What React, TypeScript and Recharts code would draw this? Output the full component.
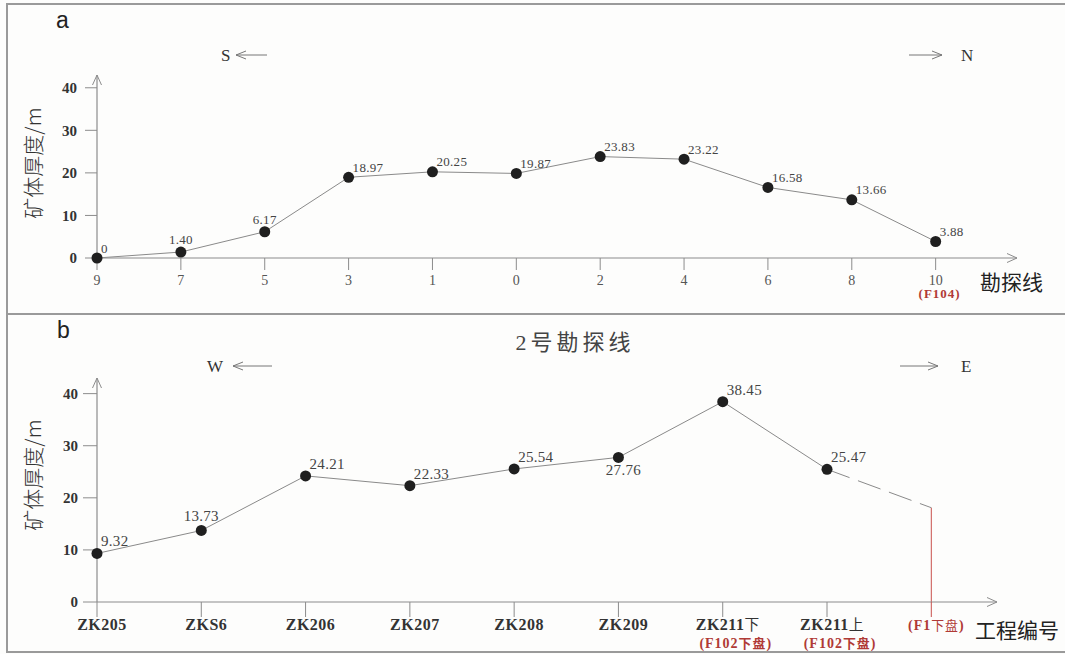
import React from 'react';
import { LineChart, Line, XAxis, YAxis, LabelList, ReferenceLine } from 'recharts';

// Panel a: ore-body thickness along the exploration lines (S → N)
const linesA = ['9', '7', '5', '3', '1', '0', '2', '4', '6', '8', '10'];
const thicknessA = [0, 1.4, 6.17, 18.97, 20.25, 19.87, 23.83, 23.22, 16.58, 13.66, 3.88];
const notesA = ['', '', '', '', '', '', '', '', '', '', '(F104)'];

// Panel b: ore-body thickness along exploration line No. 2 (W → E)
const holesB = ['ZK205', 'ZKS6', 'ZK206', 'ZK207', 'ZK208', 'ZK209', 'ZK211下', 'ZK211上', '(F1下盘)'];
const thicknessB = [9.32, 13.73, 24.21, 22.33, 25.54, 27.76, 38.45, 25.47];
const inferredStartB = 7;
const inferredB = [25.47, 18.1];
const notesB = ['', '', '', '', '', '', '(F102下盘)', '(F102下盘)', ''];

const yTicks = [0, 10, 20, 30, 40];

// label placement for each point: r = upper right, t = above, b = below
const sidesA = ['r', 't', 't', 'r', 'r', 'r', 'r', 'r', 'r', 'r', 'r'];
const sidesB = ['r', 't', 'r', 'r', 'r', 'b', 'r', 'r'];

const AXIS = '#8c8c8c';
const LINE = '#8a8a8a';
const DOT = '#1f1f1f';
const RED = '#b03a36';
const RED_LINE = '#c9504c';
const SERIF = "'Liberation Serif', 'Times New Roman', serif";
const CJK = "'Noto Sans CJK SC', 'Noto Sans', sans-serif";
const MIXED = "'Liberation Serif', 'Noto Sans CJK SC', serif";

const dataA = linesA.map((name, i) => ({ i, name, v: thicknessA[i] }));
const dataB = holesB.map((name, i) => ({
  i,
  name,
  v: i < thicknessB.length ? thicknessB[i] : null,
  inferred: i >= inferredStartB ? inferredB[i - inferredStartB] : null,
}));

const fmt = (v: number) => (v === 0 ? '0' : v.toFixed(2));

// Latin runs in bold serif, Chinese runs in a lighter weight
const mixedRuns = (s: string, boldCjk: boolean) =>
  s.split(/([\u4e00-\u9fff]+)/).filter(Boolean).map((part, k) =>
    /[\u4e00-\u9fff]/.test(part) ? (
      <tspan key={k} fontFamily={CJK} fontWeight={boldCjk ? 'bold' : 'normal'} fontSize="0.92em">
        {part}
      </tspan>
    ) : (
      <tspan key={k}>{part}</tspan>
    )
  );

const makeLabel = (sides: string[], size: number, raise: number) => (props: any) => {
  const x = props.x ?? props.viewBox?.x;
  const y = props.y ?? props.viewBox?.y;
  const { value, index } = props;
  if (value == null) return null;
  const side = sides[index];
  let tx = x + 4;
  let ty = y - raise;
  let anchor: 'start' | 'middle' = 'start';
  if (side === 't') {
    tx = x;
    ty = y - raise - 2.5;
    anchor = 'middle';
  } else if (side === 'b') {
    tx = x + 5;
    ty = y + 18;
    anchor = 'middle';
  }
  return (
    <text x={tx} y={ty} textAnchor={anchor} fontSize={size} fill="#444" fontFamily={SERIF} letterSpacing={0.3}>
      {fmt(Number(value))}
    </text>
  );
};

const TickA = (props: any) => {
  const { x, y, payload } = props;
  const i = payload.value as number;
  return (
    <g>
      <text x={x} y={y + 13} textAnchor="middle" fontSize={14} fill="#555" fontFamily={SERIF}>
        {linesA[i]}
      </text>
      {notesA[i] ? (
        <text x={x + 4} y={y + 26} textAnchor="middle" fontSize={13} fontWeight="bold" fill={RED} fontFamily={SERIF} letterSpacing={1}>
          {notesA[i]}
        </text>
      ) : null}
    </g>
  );
};

const TICK_B = 15;
const MARGIN_B = 2;
const TickB = (props: any) => {
  const { x, y, payload } = props;
  const i = payload.value as number;
  const boundary = i === holesB.length - 1;
  return (
    <g>
      <line x1={x} x2={x} y1={y - TICK_B - MARGIN_B} y2={y - MARGIN_B} stroke={boundary ? RED_LINE : AXIS} strokeWidth={1} />
      <text
        x={x + (boundary ? 5 : 5)}
        y={y + 11}
        textAnchor="middle"
        fontSize={boundary ? 14 : 16}
        fontWeight="bold"
        fill={boundary ? RED : '#333'}
        fontFamily={MIXED}
        letterSpacing={boundary ? 1 : 0.5}
      >
        {mixedRuns(holesB[i], false)}
      </text>
      {notesB[i] ? (
        <text x={x + 13} y={y + 29} textAnchor="middle" fontSize={14} fontWeight="bold" fill={RED} fontFamily={MIXED} letterSpacing={1}>
          {mixedRuns(notesB[i], true)}
        </text>
      ) : null}
    </g>
  );
};

const yTickStyle = { fontSize: 15, fontWeight: 'bold', fill: '#333', fontFamily: SERIF };
const dotStyle = { r: 5.5, fill: DOT, stroke: DOT, strokeWidth: 0, clipDot: false };

const ArrowDefs = () => (
  <defs>
    <marker id="axisArrow" viewBox="0 0 10 10" refX="10" refY="5" markerWidth="10" markerHeight="10" markerUnits="userSpaceOnUse" orient="auto-start-reverse">
      <path d="M0,0.5 L10,5 L0,9.5" fill="none" stroke={AXIS} strokeWidth={1} />
    </marker>
    <marker id="dirArrow" viewBox="0 0 10 10" refX="10" refY="5" markerWidth="10" markerHeight="10" markerUnits="userSpaceOnUse" orient="auto-start-reverse">
      <path d="M0,1 L10,5 L0,9" fill="none" stroke="#777" strokeWidth={1} />
    </marker>
  </defs>
);

const Frame = () => (
  <svg width={1065} height={654} style={{ position: 'absolute', left: 0, top: 0 }}>
    <ArrowDefs />
    <rect x={0} y={0} width={1065} height={654} fill="#fdfdfc" />
    <rect x={7} y={4} width={1070} height={648} fill="none" stroke="#9a9a9a" strokeWidth={2} />
    <line x1={7} x2={1065} y1={314} y2={314} stroke="#9a9a9a" strokeWidth={2} />

    {/* panel a */}
    <text x={56} y={28} fontSize={23} fill="#222" fontFamily="'Liberation Sans', Arial, sans-serif">a</text>
    <text x={221} y={61} fontSize={17} fill="#333" fontFamily={SERIF}>S</text>
    <line x1={267} x2={236} y1={55} y2={55} stroke="#777" strokeWidth={1} markerEnd="url(#dirArrow)" />
    <line x1={909} x2={942} y1={55} y2={55} stroke="#777" strokeWidth={1} markerEnd="url(#dirArrow)" />
    <text x={961} y={61} fontSize={17} fill="#333" fontFamily={SERIF}>N</text>
    <text x={980} y={290} fontSize={21} fill="#222" fontFamily={CJK}>勘探线</text>
    <text
      x={0}
      y={0}
      transform="translate(41,163) rotate(-90)"
      textAnchor="middle"
      fontSize={21}
      fill="#333"
      fontWeight={300}
      fontFamily={CJK}
    >
      矿体厚度/m
    </text>

    {/* panel b */}
    <text x={57} y={338} fontSize={23} fill="#222" fontFamily="'Liberation Sans', Arial, sans-serif">b</text>
    <text x={575} y={350} textAnchor="middle" fontSize={22} fill="#444" letterSpacing={4} fontFamily={MIXED}>2号勘探线</text>
    <text x={207} y={372} fontSize={17} fill="#333" fontFamily={SERIF}>W</text>
    <line x1={272} x2={233} y1={366} y2={366} stroke="#777" strokeWidth={1} markerEnd="url(#dirArrow)" />
    <line x1={900} x2={938} y1={366} y2={366} stroke="#777" strokeWidth={1} markerEnd="url(#dirArrow)" />
    <text x={961} y={372} fontSize={17} fill="#333" fontFamily={SERIF}>E</text>
    <text x={975} y={638} fontSize={21} fill="#222" fontFamily={CJK}>工程编号</text>
    <text
      x={0}
      y={0}
      transform="translate(41,475) rotate(-90)"
      textAnchor="middle"
      fontSize={21}
      fill="#333"
      fontWeight={300}
      fontFamily={CJK}
    >
      矿体厚度/m
    </text>
  </svg>
);

export default function App() {
  return (
    <div style={{ position: 'absolute', left: 0, top: 0, width: 1065, height: 654, overflow: 'hidden' }}>
      <Frame />

      <div style={{ position: 'absolute', left: 0, top: 0 }}>
        <LineChart width={1065} height={313} data={dataA} margin={{ top: 75, right: 48, bottom: 25, left: 0 }}>
          <XAxis
            type="number"
            dataKey="i"
            domain={[0, 10.97]}
            ticks={linesA.map((_, i) => i)}
            interval={0}
            tickSize={12}
            tickMargin={2}
            height={30}
            axisLine={{ stroke: AXIS, strokeWidth: 1.2, markerEnd: 'url(#axisArrow)' }}
            tickLine={{ stroke: AXIS }}
            tick={(p: any) => <TickA {...p} />}
          />
          <YAxis
            type="number"
            width={97}
            domain={[0, 43]}
            ticks={yTicks}
            interval={0}
            tickSize={12}
            tickMargin={8}
            axisLine={{ stroke: AXIS, strokeWidth: 1.2, markerStart: 'url(#axisArrow)' }}
            tickLine={{ stroke: AXIS }}
            tick={yTickStyle}
          />
          <Line
            type="linear"
            dataKey="v"
            stroke={LINE}
            strokeWidth={1}
            dot={dotStyle}
            activeDot={false}
            isAnimationActive={false}
          >
            <LabelList dataKey="v" content={makeLabel(sidesA, 13, 5.5)} />
          </Line>
        </LineChart>
      </div>

      <div style={{ position: 'absolute', left: 0, top: 313 }}>
        <LineChart width={1065} height={341} data={dataB} margin={{ top: 65, right: 68, bottom: 22, left: 0 }}>
          <XAxis
            type="number"
            dataKey="i"
            domain={[0, 8.63]}
            ticks={holesB.map((_, i) => i)}
            interval={0}
            tickSize={TICK_B}
            tickMargin={MARGIN_B}
            height={30}
            axisLine={{ stroke: AXIS, strokeWidth: 1.2, markerEnd: 'url(#axisArrow)' }}
            tickLine={false}
            tick={(p: any) => <TickB {...p} />}
          />
          <YAxis
            type="number"
            width={97}
            domain={[0, 43]}
            ticks={yTicks}
            interval={0}
            tickSize={14}
            tickMargin={5}
            axisLine={{ stroke: AXIS, strokeWidth: 1.2, markerStart: 'url(#axisArrow)' }}
            tickLine={{ stroke: AXIS }}
            tick={yTickStyle}
          />
          <ReferenceLine
            segment={[
              { x: holesB.length - 1, y: inferredB[inferredB.length - 1] },
              { x: holesB.length - 1, y: 0 },
            ]}
            stroke={RED_LINE}
            strokeWidth={1}
          />
          <Line
            type="linear"
            dataKey="inferred"
            stroke={LINE}
            strokeWidth={1}
            strokeDasharray="24 9"
            dot={false}
            activeDot={false}
            connectNulls={false}
            isAnimationActive={false}
          />
          <Line
            type="linear"
            dataKey="v"
            stroke={LINE}
            strokeWidth={1}
            dot={dotStyle}
            activeDot={false}
            isAnimationActive={false}
          >
            <LabelList dataKey="v" content={makeLabel(sidesB, 15, 7)} />
          </Line>
        </LineChart>
      </div>
    </div>
  );
}
